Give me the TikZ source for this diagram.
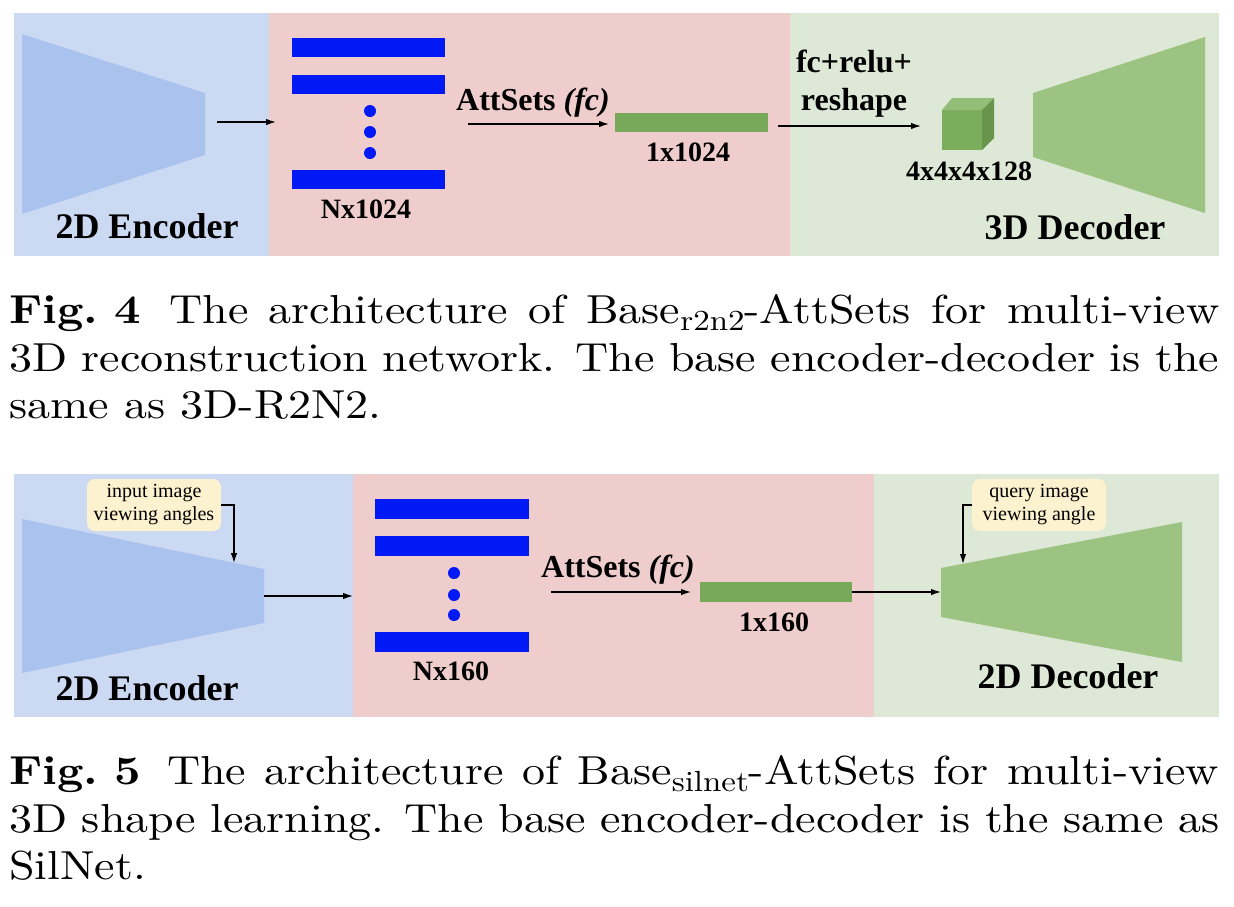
\documentclass[tikz,border=0pt]{standalone}
\usepackage{fontspec}
\newfontfamily\tnr{Liberation Serif}[BoldFont={Liberation Serif Bold}, ItalicFont={Liberation Serif Italic}, BoldItalicFont={Liberation Serif Bold Italic}]
\newfontfamily\capfont{lmroman10-regular.otf}[BoldFont=lmroman10-bold.otf]
\usetikzlibrary{arrows.meta}
\definecolor{encpanel}{HTML}{CBD9F3}
\definecolor{encshape}{HTML}{A9C2EE}
\definecolor{midpanel}{HTML}{EFCDCC}
\definecolor{decpanel}{HTML}{DDE8D6}
\definecolor{decshape}{HTML}{9DC383}
\definecolor{featbar}{HTML}{78A85A}
\definecolor{setbar}{HTML}{0019F5}
\definecolor{notebox}{HTML}{FDF2CF}
\definecolor{cubefront}{HTML}{7AAD5C}
\definecolor{cubetop}{HTML}{93BE77}
\definecolor{cubeside}{HTML}{66954B}
\tikzset{
  biglab/.style={anchor=base, inner sep=0pt, font=\tnr\bfseries\fontsize{36}{36}\selectfont},
  midlab/.style={anchor=base, inner sep=0pt, font=\tnr\bfseries\fontsize{32}{37}\selectfont, align=center},
  dimlab/.style={anchor=base, inner sep=0pt, font=\tnr\bfseries\fontsize{28}{28}\selectfont},
  notebx/.style={fill=notebox, rounded corners=8pt, inner sep=0pt, minimum width=134pt, minimum height=52pt, align=center, font=\tnr\fontsize{20}{23}\selectfont},
  arr/.style={-{Latex[length=10pt,width=6.5pt]}, line width=1.3pt, black},
  setbarst/.style={fill=setbar, draw=none, inner sep=0pt, minimum width=153pt, minimum height=19pt},
  featbarst/.style={fill=featbar, draw=none, inner sep=0pt, minimum width=153pt, minimum height=19pt},
  setdot/.style={circle, fill=setbar, draw=none, inner sep=0pt, minimum size=12pt},
  capline/.style={anchor=base west, inner sep=0pt, font=\capfont\fontsize{46}{54}\selectfont}
}
\newcommand\capsub[1]{\raisebox{-8pt}{\fontsize{33}{33}\selectfont #1}}
\begin{document}
\begin{tikzpicture}[x=1pt, y=-1pt]
\useasboundingbox (0,0) rectangle (1234,906);
\fill[white] (0,0) rectangle (1234,906);

% ===== Fig. 4 =====
\fill[encpanel] (14,13) rectangle (269,256);
\fill[midpanel] (269,13) rectangle (790,256);
\fill[decpanel] (790,13) rectangle (1219,256);

\fill[encshape] (22,34) -- (205,93) -- (205,155) -- (22,214) -- cycle;
\coordinate (enca) at (217,122);
\coordinate (setina) at (276,122);
\draw[arr] (enca) -- (setina);

\node[setbarst] (bara1) at (368.5,47.5) {};
\node[setbarst] (bara2) at (368.5,84) {};
\node[setbarst] (bara3) at (368.5,179.5) {};
\node[setdot] (dota1) at (370,111) {};
\node[setdot] (dota2) at (370,132) {};
\node[setdot] (dota3) at (370,153) {};
\node[dimlab] (nla) at (366,218) {Nx1024};

\node[midlab] (atta) at (533,110) {AttSets {\itshape(fc)}};
\coordinate (attsa) at (468,124);
\node[featbarst] (feata) at (691.5,122.5) {};
\coordinate (attea) at (609,124);
\draw[arr] (attsa) -- (attea);
\node[dimlab] (fla) at (688,161) {1x1024};

\coordinate (fcs) at (778,126);
\coordinate (fce) at (921,126);
\draw[arr] (fcs) -- (fce);
\node[midlab] (fcl1) at (854,72) {fc+relu+};
\node[midlab] (fcl2) at (854,110) {reshape};

\fill[cubefront] (942,110) rectangle (982,150);
\fill[cubetop] (942,110) -- (952,98) -- (994,98) -- (982,110) -- cycle;
\fill[cubeside] (982,110) -- (994,98) -- (994,138) -- (982,150) -- cycle;
\node[dimlab] (cubel) at (969,180) {4x4x4x128};

\fill[decshape] (1033,93) -- (1205,37) -- (1205,213) -- (1033,157) -- cycle;
\node[biglab] (enclA) at (147,238) {2D Encoder};
\node[biglab] (declA) at (1075,239) {3D Decoder};

% caption Fig. 4
\node[capline] (c4a) at (9,323) {\scalebox{1}[0.88]{\makebox[1210pt][s]{\textbf{Fig.\kern16pt 4}\hspace{8pt} The architecture of Base\capsub{r2n2}-AttSets for multi-view}}};
\node[capline] (c4b) at (9,371) {\scalebox{1}[0.88]{\makebox[1210pt][s]{3D reconstruction network. The base encoder-decoder is the}}};
\node[capline] (c4c) at (9,418) {\scalebox{1}[0.88]{same as 3D-R2N2.}};

% ===== Fig. 5 =====
\fill[encpanel] (14,474) rectangle (353,717);
\fill[midpanel] (353,474) rectangle (874,717);
\fill[decpanel] (874,474) rectangle (1219,717);

\fill[encshape] (22,519) -- (264,569) -- (264,623) -- (22,673) -- cycle;
\node[notebx] (inbox) at (154,505) {input image\\viewing angles};
\coordinate (encin) at (234,563);
\draw[arr] (inbox.east) -| (encin);
\coordinate (encb) at (264,596);
\coordinate (setinb) at (353,596);
\draw[arr] (encb) -- (setinb);

\node[setbarst, minimum width=154pt, minimum height=20pt] (barb1) at (452,509) {};
\node[setbarst, minimum width=154pt, minimum height=20pt] (barb2) at (452,546) {};
\node[setbarst, minimum width=154pt, minimum height=20pt] (barb3) at (452,642) {};
\node[setdot] (dotb1) at (454,573) {};
\node[setdot] (dotb2) at (454,595) {};
\node[setdot] (dotb3) at (454,615) {};
\node[dimlab] (nlb) at (451,680) {Nx160};

\node[midlab] (attb) at (618,577) {AttSets {\itshape(fc)}};
\coordinate (attsb) at (551,592);
\coordinate (atteb) at (691,592);
\draw[arr] (attsb) -- (atteb);
\node[featbarst, minimum width=152pt, minimum height=20pt] (featb) at (776,592) {};
\node[dimlab] (flb) at (774,631) {1x160};
\coordinate (decinb) at (941,592);
\draw[arr] (featb.east) -- (decinb);

\fill[decshape] (941,568) -- (1182,522) -- (1182,662) -- (941,617) -- cycle;
\node[notebx] (qbox) at (1039,505) {query image\\viewing angle};
\coordinate (decq) at (963,564);
\draw[arr] (qbox.west) -| (decq);

\node[biglab] (enclB) at (147,700) {2D Encoder};
\node[biglab] (declB) at (1068,688) {2D Decoder};

% caption Fig. 5
\node[capline] (c5a) at (9,784) {\scalebox{1}[0.88]{\makebox[1210pt][s]{\textbf{Fig.\kern16pt 5}\hspace{8pt} The architecture of Base\capsub{silnet}-AttSets for multi-view}}};
\node[capline] (c5b) at (9,832) {\scalebox{1}[0.88]{\makebox[1210pt][s]{3D shape learning. The base encoder-decoder is the same as}}};
\node[capline] (c5c) at (9,879) {\scalebox{1}[0.88]{SilNet.}};
\end{tikzpicture}
\end{document}
